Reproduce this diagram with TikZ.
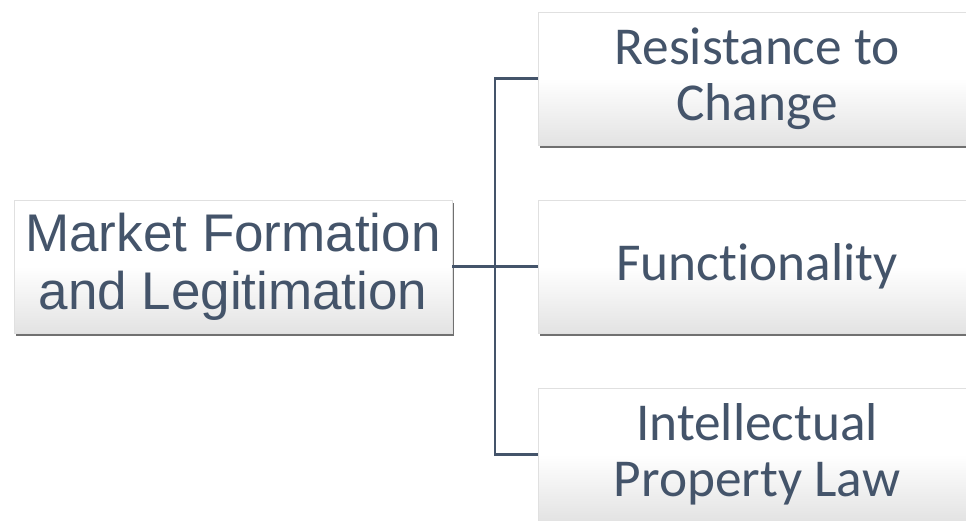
\documentclass[tikz,border=0pt]{standalone}
\usepackage{fontspec}
\setmainfont{Liberation Sans}
\newfontfamily\calib[Ligatures=NoCommon]{Carlito}
\usetikzlibrary{shadows}
\definecolor{txt}{HTML}{44546A}
\definecolor{lnc}{HTML}{44546A}
\tikzset{
  box/.style={rectangle, draw=black!12, line width=0.6pt,
    top color=white, bottom color=black!11, middle color=white,
    minimum width=438pt, minimum height=133pt, inner sep=0pt,
    text=txt, align=center,
    drop shadow={shadow xshift=1.5pt, shadow yshift=-3pt, opacity=0.75, fill=black!75}},
  conn/.style={draw=lnc, line width=2.2pt}
}
\begin{document}
\begin{tikzpicture}[x=1pt,y=-1pt]
\useasboundingbox (0,0) rectangle (966,520);
\clip (0,0) rectangle (966,520);
\node[box, font=\fontsize{53}{58}\selectfont] (mf) at (233,266.5) {Market Formation\\and Legitimation};
\node[box, font=\calib\fontsize{53.3}{56}\selectfont] (rc) at (757,78.5) {Resistance to\\Change};
\node[box, font=\calib\fontsize{53.3}{56}\selectfont] (fn) at (757,266.5) {Functionality};
\node[box, font=\calib\fontsize{53.3}{56}\selectfont] (ip) at (757,454.5) {Intellectual\\Property Law};
\coordinate (j) at (495,266.5);
\draw[conn] (mf.east) -- (j);
\draw[conn] (j) |- (rc.west);
\draw[conn] (j) -- (fn.west);
\draw[conn] (j) |- (ip.west);
\end{tikzpicture}
\end{document}
